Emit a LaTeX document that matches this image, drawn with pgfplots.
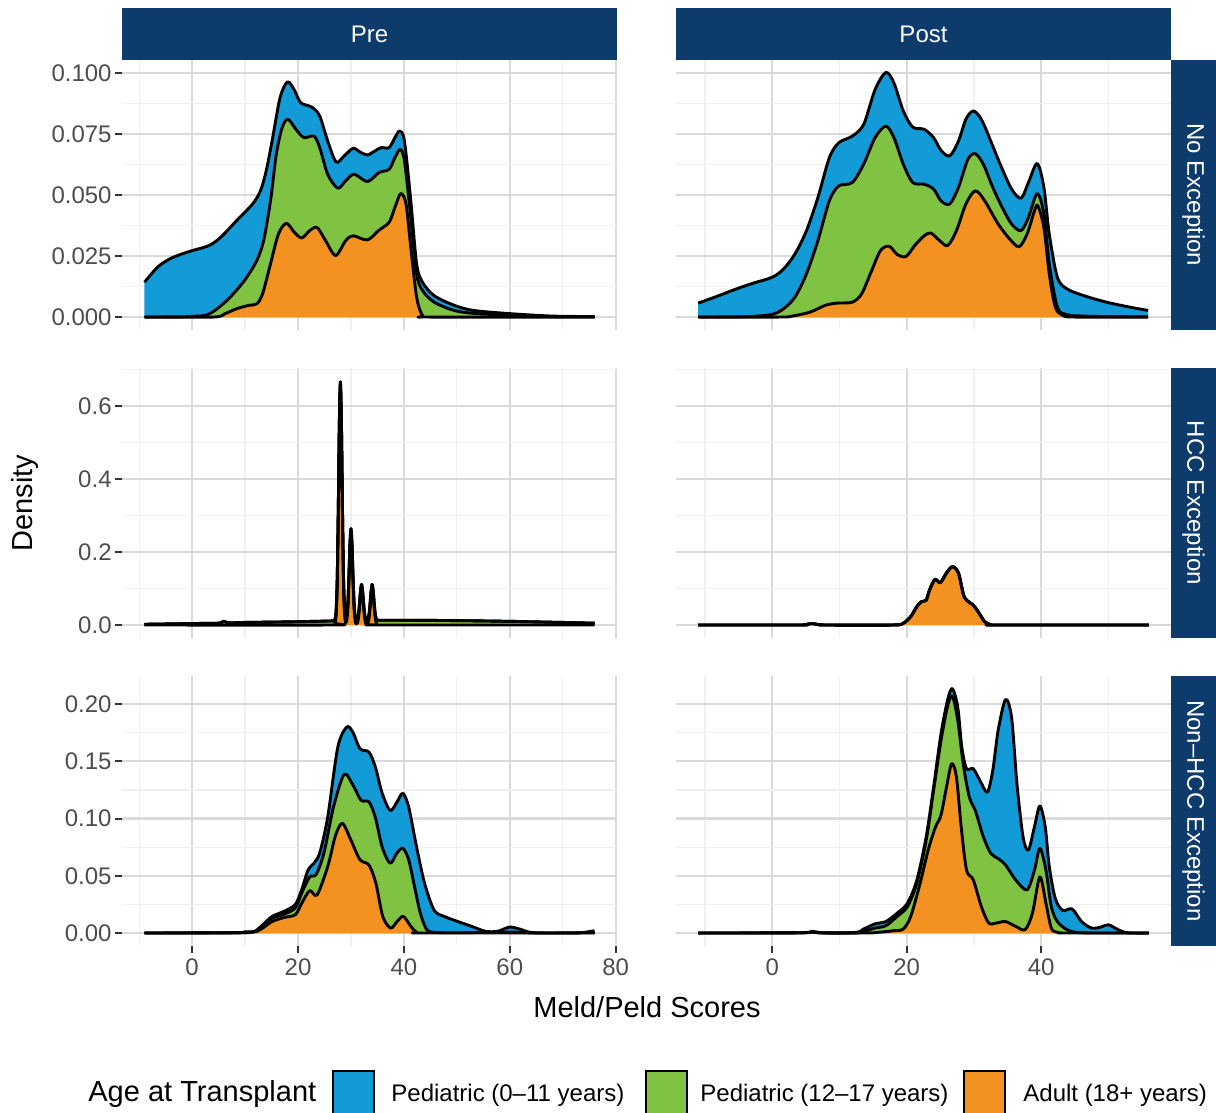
\documentclass[border=0pt]{standalone}
\usepackage{pgfplots}
\pgfplotsset{compat=1.18}
\usepackage{pgfplotstable}
\usepackage{fontspec}
\setmainfont{Liberation Sans}

\definecolor{stripblue}{RGB}{13,59,107}
\definecolor{cBlue}{RGB}{18,155,214}
\definecolor{cGreen}{RGB}{128,195,66}
\definecolor{cOrange}{RGB}{243,146,32}
\definecolor{gridmaj}{RGB}{218,218,218}
\definecolor{gridmin}{RGB}{240,240,240}
\definecolor{tickgray}{RGB}{51,51,51}
\definecolor{labgray}{RGB}{77,77,77}

% ---------------- Row 1: No Exception ----------------
\pgfplotstableread{
x y
-9 0.0143
-6.5 0.0205
-4.25 0.0238
-2 0.0258
0 0.0272
3.2 0.0293
5.4 0.0327
8.4 0.0395
11.4 0.0463
12.9 0.0517
14.0 0.060
15.1 0.0721
16.6 0.0898
18.0 0.0963
19.25 0.0932
20.5 0.0878
22.6 0.0860
24.1 0.0823
25.6 0.0721
27.2 0.0635
28.7 0.0660
30.4 0.0691
31.8 0.0675
33.1 0.0664
34.5 0.0680
35.7 0.0694
37.2 0.0694
38.3 0.0735
39.2 0.0762
40.1 0.0721
41.3 0.0476
42.4 0.0218
43.5 0.0143
45.7 0.0088
49.5 0.0048
53.2 0.0027
60 0.0014
68 0.0004
76 0.0002
}\preNoTop
\pgfplotstableread{
x y
-9 0
-2 0.0001
0 0.0003
2.5 0.0007
4.3 0.0027
6.9 0.0075
9.9 0.0150
12.2 0.0231
13.5 0.0313
14.8 0.0476
15.9 0.0667
17.0 0.0776
18.1 0.0810
19.6 0.0769
21.1 0.0735
23.0 0.0741
24.1 0.0694
25.6 0.0585
27.5 0.0528
29.0 0.0558
30.6 0.0585
33.1 0.0555
35.3 0.0592
37.2 0.0605
38.3 0.0653
39.3 0.0687
40.1 0.0639
41.3 0.0408
42.4 0.0177
43.5 0.0109
45.7 0.0061
49.5 0.0027
53.2 0.0015
60 0.0007
68 0.0002
76 0.0001
}\preNoMid
\pgfplotstableread{
x y
-9 0
4 0
6.2 0.0014
8.4 0.0034
10.7 0.0048
12.2 0.0054
13.3 0.0095
14.8 0.0218
16.3 0.0340
17.8 0.0384
19.3 0.0347
20.7 0.0324
22.2 0.0354
23.6 0.0367
25.2 0.0313
27.1 0.0252
29.0 0.0313
30.4 0.0333
33.1 0.0316
35.3 0.0356
37.2 0.0388
38.3 0.0449
39.4 0.0506
40.4 0.0463
41.3 0.0286
42.4 0.0082
43.5 0.0007
45 0
76 0
}\preNoBot
\pgfplotstableread{
x y
-11 0.0057
-7.9 0.0088
-5.65 0.0112
-2.8 0.0139
0 0.0163
1.7 0.0197
3.4 0.0259
5.1 0.0354
6.8 0.0490
8.5 0.0653
9.9 0.0714
11.9 0.0741
13.6 0.0789
15.3 0.0932
16.9 0.1002
18.1 0.0959
19.5 0.0844
20.9 0.0778
22.6 0.0769
24.0 0.0735
25.1 0.0683
26.4 0.0660
27.7 0.0721
28.8 0.0810
29.9 0.0844
31.1 0.0810
32.5 0.0721
33.9 0.0626
35.6 0.0524
37.0 0.0487
38.1 0.0551
39.4 0.0629
40.4 0.0531
41.2 0.0340
42.4 0.0163
43.8 0.0116
46.3 0.0088
49.7 0.0061
53.1 0.0041
55.9 0.0027
}\postNoTop
\pgfplotstableread{
x y
-11 0
-5 0.0001
-2.8 0.0003
0 0.0011
1.7 0.0034
3.4 0.0082
5.1 0.0177
6.8 0.0313
8.5 0.0476
9.9 0.0537
11.9 0.0551
13.6 0.0626
15.3 0.0735
16.9 0.0782
18.1 0.0735
19.5 0.0626
20.9 0.0551
22.6 0.0544
24.0 0.0524
25.1 0.0476
26.4 0.0463
27.7 0.0531
29.1 0.0646
30.2 0.0669
31.4 0.0626
32.8 0.0531
34.2 0.0449
35.6 0.0381
37.0 0.0354
38.1 0.0408
39.4 0.0506
40.4 0.0422
41.2 0.0218
42.4 0.0041
43.8 0.0010
46.3 0.0004
50 0.0002
55.9 0.0001
}\postNoMid
\pgfplotstableread{
x y
-11 0
1 0
2.8 0.0003
5.6 0.0020
7.9 0.0048
9.6 0.0057
11.9 0.0061
13.3 0.0095
14.7 0.0184
16.1 0.0272
17.4 0.0290
18.6 0.0256
19.9 0.0248
21.2 0.0293
22.6 0.0333
23.6 0.0344
24.9 0.0313
26.1 0.0293
27.4 0.0354
28.8 0.0463
30.2 0.0517
31.6 0.0476
33.6 0.0381
35.3 0.0320
36.7 0.0288
37.9 0.0340
39.0 0.0435
39.5 0.0456
40.4 0.0367
41.2 0.0177
42.1 0.0041
43.2 0.0007
45 0
55.9 0
}\postNoBot

% ---------------- Row 2: HCC Exception ----------------
\pgfplotstableread{
x y
-9 0.002
0 0.004
5 0.005
5.6 0.008
6.0 0.010
6.4 0.008
7 0.006
10 0.007
15 0.008
20 0.009
26 0.011
26.8 0.0116
27.0 0.016
27.2 0.040
27.4 0.124
27.6 0.311
27.8 0.550
28.0 0.666
28.2 0.550
28.4 0.311
28.6 0.124
28.8 0.040
29.0 0.018
29.2 0.023
29.4 0.055
29.6 0.127
29.8 0.219
30.0 0.264
30.2 0.219
30.4 0.127
30.6 0.055
30.8 0.022
31.0 0.014
31.2 0.016
31.4 0.028
31.6 0.057
31.8 0.093
32.0 0.111
32.2 0.093
32.4 0.057
32.6 0.028
32.8 0.016
33.0 0.0126
33.2 0.016
33.4 0.028
33.6 0.057
33.8 0.093
34.0 0.111
34.2 0.093
34.4 0.057
34.6 0.028
34.8 0.016
35.0 0.013
35.4 0.013
40 0.013
50 0.012
60 0.010
70 0.007
76 0.005
}\preHccTop
\pgfplotstableread{
x y
-9 0
26.6 0
27.0 0.005
27.2 0.029
27.4 0.113
27.6 0.300
27.8 0.539
28.0 0.655
28.2 0.539
28.4 0.300
28.6 0.113
28.8 0.029
29.0 0.007
29.2 0.012
29.4 0.044
29.6 0.116
29.8 0.208
30.0 0.253
30.2 0.208
30.4 0.116
30.6 0.044
30.8 0.011
31.0 0.003
31.2 0.005
31.4 0.017
31.6 0.046
31.8 0.082
32.0 0.100
32.2 0.082
32.4 0.046
32.6 0.017
32.8 0.005
33.0 0.0016
33.2 0.005
33.4 0.017
33.6 0.046
33.8 0.082
34.0 0.100
34.2 0.082
34.4 0.046
34.6 0.017
34.8 0.005
35.0 0.001
35.4 0
76 0
}\preHccBot
\pgfplotstableread{
x y
-11 0
4 0
5.2 0.002
5.9 0.004
6.6 0.002
8 0
18 0
19.5 0.005
20.6 0.023
21.5 0.050
22.2 0.064
22.9 0.068
23.4 0.096
24.2 0.125
25.0 0.116
25.9 0.142
26.8 0.160
27.7 0.142
28.5 0.080
29.3 0.062
29.8 0.056
30.5 0.040
31.6 0.009
32.5 0.001
33.5 0
56 0
}\postHccTop

% ---------------- Row 3: Non-HCC Exception ----------------
\pgfplotstableread{
x y
-9 0
8 0.0003
9.9 0.0010
11.8 0.0015
13.3 0.0070
15.1 0.0145
17.4 0.0190
19.5 0.0250
20.7 0.0380
21.9 0.0550
23.0 0.0610
24.1 0.0700
25.6 0.1010
27.5 0.1620
29.2 0.1800
30.4 0.1750
31.7 0.1610
33.4 0.1580
34.6 0.1450
35.9 0.1220
37.4 0.1070
38.7 0.1145
39.8 0.1220
40.9 0.1100
42.4 0.0750
43.9 0.0435
45.7 0.0200
47.6 0.0145
50.2 0.0100
52.8 0.0058
55.4 0.0015
57.7 0.0015
60 0.0052
62.2 0.0030
64.4 0.0003
71.9 0
74 0.0005
76 0.0020
}\preNonTop
\pgfplotstableread{
x y
-9 0
8 0.0002
11.8 0.0012
13.3 0.0058
15.1 0.0130
17.4 0.0165
19.5 0.0220
20.7 0.0350
22.2 0.0490
23.4 0.0510
24.9 0.0700
26.7 0.1100
28.7 0.1385
30.4 0.1290
31.9 0.1160
33.4 0.1145
34.6 0.1010
35.9 0.0750
37.4 0.0610
38.7 0.0700
39.8 0.0740
40.9 0.0640
42.0 0.0406
43.1 0.0174
44.3 0.0030
45.7 0.0006
50 0.0002
60 0.0008
65 0
76 0.0003
}\preNonMid
\pgfplotstableread{
x y
-9 0
8 0.0001
11.8 0.0010
13.3 0.0043
15.1 0.0100
17.4 0.0136
19.5 0.0160
20.7 0.0260
22.2 0.0370
23.6 0.0333
25.6 0.0580
27.1 0.0855
28.4 0.0957
30.0 0.0810
31.7 0.0640
33.4 0.0594
34.7 0.0435
36.0 0.0145
37.5 0.0043
38.7 0.0100
39.9 0.0145
41.3 0.0058
42.4 0.0006
44 0
76 0
}\preNonBot
\pgfplotstableread{
x y
-11 0
4 0.0002
5.9 0.0015
7.5 0.0002
12.4 0.0005
13.6 0.0035
15.3 0.0080
16.9 0.0100
18.6 0.0174
20.1 0.0260
21.5 0.0460
22.9 0.0840
24.0 0.1275
25.1 0.1740
26.1 0.2040
26.8 0.2135
27.6 0.1970
28.2 0.1620
28.9 0.1435
29.9 0.1435
31.0 0.1320
32.0 0.1230
32.8 0.1420
33.6 0.1770
34.7 0.2040
35.6 0.1880
36.4 0.1300
37.3 0.0840
38.1 0.0725
39.0 0.0928
39.8 0.1110
40.6 0.0928
41.2 0.0580
42.1 0.0300
43.2 0.0197
44.6 0.0210
46.0 0.0100
47.5 0.0043
48.9 0.0052
50.0 0.0072
51.4 0.0030
52.8 0.0002
56 0
}\postNonTop
\pgfplotstableread{
x y
-11 0
4 0.0002
5.9 0.0010
7.5 0.0001
12.4 0.0003
13.6 0.0015
15.3 0.0043
16.9 0.0064
18.6 0.0145
20.1 0.0230
21.5 0.0435
22.9 0.0810
24.0 0.1246
25.1 0.1680
26.1 0.1985
26.8 0.2070
27.6 0.1855
28.4 0.1480
29.3 0.1190
30.2 0.1070
31.4 0.0840
32.5 0.0696
33.6 0.0650
34.7 0.0594
36.2 0.0464
37.9 0.0377
39.0 0.0550
39.8 0.0740
40.7 0.0550
41.5 0.0230
42.4 0.0100
43.8 0.0030
45.2 0.0006
48 0
56 0
}\postNonMid
\pgfplotstableread{
x y
-11 0
4 0.0001
5.9 0.0008
7.5 0
14 0
15.8 0.0006
18.1 0.0020
19.5 0.0035
20.6 0.0145
22.0 0.0435
23.2 0.0725
24.3 0.0928
25.1 0.1030
26.0 0.1300
26.7 0.1480
27.4 0.1360
28.1 0.0928
28.9 0.0550
29.9 0.0464
31.1 0.0230
32.2 0.0087
33.3 0.0087
34.7 0.0100
36.2 0.0058
37.6 0.0030
38.7 0.0174
39.8 0.0490
40.7 0.0260
41.5 0.0043
42.4 0.0006
44 0
56 0
}\postNonBot

\pgfplotsset{
  dens/.style={
    scale only axis, width=247.5pt, height=135pt, anchor=south west,
    axis line style={draw=none},
    grid=both,
    major grid style={draw=gridmaj, line width=1.15pt},
    minor grid style={draw=gridmin, line width=0.6pt},
    tick align=outside, tick pos=left,
    major tick length=3.5pt, minor tick length=0pt,
    major tick style={draw=tickgray, line width=1pt},
    ticklabel style={font=\fontsize{12}{14}\selectfont, text=labgray},
    yticklabel style={inner sep=1.5pt},
    xticklabel style={inner sep=2.8pt},
  },
  leftcol/.style={xmin=-13.25, xmax=80.25, xtick={0,20,40,60,80},
    minor xtick={-10,10,30,50,70}, xticklabels={0,20,40,60,80}},
  rightcol/.style={xmin=-14.3, xmax=59.3, xtick={0,20,40},
    minor xtick={-10,10,30,50}, xticklabels={0,20,40}, ymajorticks=false},
  rowA/.style={ymin=-0.0053, ymax=0.1053, ytick={0,0.025,0.05,0.075,0.1},
    yticklabels={0.000,0.025,0.050,0.075,0.100},
    minor ytick={0.0125,0.0375,0.0625,0.0875}, xmajorticks=false},
  rowB/.style={ymin=-0.0356, ymax=0.704, ytick={0,0.2,0.4,0.6},
    yticklabels={0.0,0.2,0.4,0.6}, minor ytick={0.1,0.3,0.5,0.7}, xmajorticks=false},
  rowC/.style={ymin=-0.01135, ymax=0.2245, ytick={0,0.05,0.1,0.15,0.2},
    yticklabels={0.00,0.05,0.10,0.15,0.20}, minor ytick={0.025,0.075,0.125,0.175}},
  fillB/.style={draw=none, fill=cBlue, smooth, tension=0.5},
  fillG/.style={draw=none, fill=cGreen, smooth, tension=0.5},
  fillO/.style={draw=none, fill=cOrange, smooth, tension=0.5},
  dline/.style={black, line width=1.45pt, smooth, tension=0.5, line join=round},
}

\newcommand{\stack}[3]{%
  \addplot[fillB] table {#1} \closedcycle;
  \addplot[fillG] table {#2} \closedcycle;
  \addplot[fillO] table {#3} \closedcycle;
  \addplot[dline] table {#1};
  \addplot[dline] table {#2};
  \addplot[dline] table {#3};
}

\begin{document}
\begin{tikzpicture}[x=1pt,y=1pt]
\useasboundingbox (0,0) rectangle (608,556.5);

% Row 1
\begin{axis}[dens, leftcol, rowA, at={(61pt,391.5pt)}]
  \stack{\preNoTop}{\preNoMid}{\preNoBot}
\end{axis}
\begin{axis}[dens, rightcol, rowA, at={(338pt,391.5pt)}]
  \stack{\postNoTop}{\postNoMid}{\postNoBot}
\end{axis}
% Row 2
\begin{axis}[dens, leftcol, rowB, at={(61pt,237.5pt)}]
  \stack{\preHccTop}{\preHccTop}{\preHccBot}
\end{axis}
\begin{axis}[dens, rightcol, rowB, at={(338pt,237.5pt)}]
  \stack{\postHccTop}{\postHccTop}{\postHccTop}
\end{axis}
% Row 3
\begin{axis}[dens, leftcol, rowC, at={(61pt,83.5pt)}]
  \stack{\preNonTop}{\preNonMid}{\preNonBot}
\end{axis}
\begin{axis}[dens, rightcol, rowC, at={(338pt,83.5pt)}]
  \stack{\postNonTop}{\postNonMid}{\postNonBot}
\end{axis}

% Strips
\fill[stripblue] (61,526.5) rectangle (308.5,552.5);
\fill[stripblue] (338,526.5) rectangle (585.5,552.5);
\node[text=white, font=\fontsize{12}{14}\selectfont] at (184.75,539.5) {Pre};
\node[text=white, font=\fontsize{12}{14}\selectfont] at (461.75,539.5) {Post};
\fill[stripblue] (585.5,391.5) rectangle (608,526.5);
\fill[stripblue] (585.5,237.5) rectangle (608,372.5);
\fill[stripblue] (585.5,83.5) rectangle (608,218.5);
\node[text=white, rotate=-90, font=\fontsize{12}{14}\selectfont] at (596.75,459) {No Exception};
\node[text=white, rotate=-90, font=\fontsize{12}{14}\selectfont] at (596.75,305) {HCC Exception};
\node[text=white, rotate=-90, font=\fontsize{12}{14}\selectfont] at (596.75,151) {Non–HCC Exception};

% Axis titles
\node[rotate=90, font=\fontsize{14.5}{17}\selectfont] at (12.5,305) {Density};
\node[font=\fontsize{14.5}{17}\selectfont] at (323.5,53) {Meld/Peld Scores};

% Legend
\node[anchor=base west, inner sep=0pt, font=\fontsize{14.5}{17}\selectfont] at (44,5.5) {Age at Transplant};
\filldraw[fill=cBlue, draw=black, line width=0.9pt] (166.5,-1) rectangle (187,21);
\filldraw[fill=cGreen, draw=black, line width=0.9pt] (323,-1) rectangle (343.5,21);
\filldraw[fill=cOrange, draw=black, line width=0.9pt] (482,-1) rectangle (502.5,21);
\node[anchor=base west, inner sep=0pt, font=\fontsize{12}{14}\selectfont] at (195.5,5.5) {Pediatric (0–11 years)};
\node[anchor=base west, inner sep=0pt, font=\fontsize{12}{14}\selectfont] at (350,5.5) {Pediatric (12–17 years)};
\node[anchor=base west, inner sep=0pt, font=\fontsize{12}{14}\selectfont] at (511.5,5.5) {Adult (18+ years)};
\end{tikzpicture}
\end{document}
